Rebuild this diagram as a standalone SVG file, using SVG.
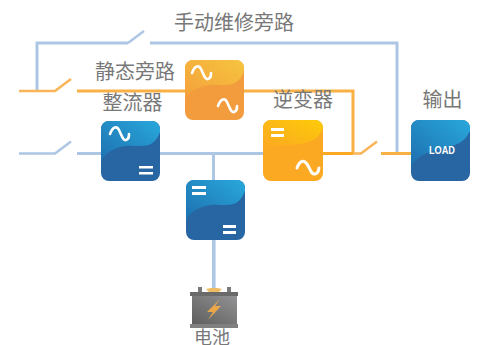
<svg xmlns="http://www.w3.org/2000/svg" width="497" height="345" viewBox="0 0 497 345">
<style>
.t{font-family:"Noto Sans CJK SC","Noto Sans",sans-serif;font-size:20px;fill:#787878;text-anchor:middle}
.b{fill:none;stroke:#adc6e4;stroke-width:3}
.bt{fill:none;stroke:#adc6e4;stroke-width:2.500}
.bw{fill:none;stroke:#adc6e4;stroke-width:3.600}
.o{fill:none;stroke:#f9b044;stroke-width:3}
.od{fill:none;stroke:#fba823;stroke-width:3}
.ot{fill:none;stroke:#f9b557;stroke-width:2.500}
.w{fill:none;stroke:#fff;stroke-width:2.600;stroke-linecap:round}
.e{fill:#fff}
</style>
<defs>
<linearGradient id="bg" x1="0" y1="1" x2="1" y2="0"><stop offset="0" stop-color="#1e6fae"/><stop offset="1" stop-color="#28a8dc"/></linearGradient>
<linearGradient id="og" x1="0" y1="1" x2="1" y2="0"><stop offset="0" stop-color="#f4a03c"/><stop offset="1" stop-color="#f6c43e"/></linearGradient>
<linearGradient id="yg" x1="0" y1="1" x2="1" y2="0"><stop offset="0" stop-color="#fba823"/><stop offset="1" stop-color="#fdcb08"/></linearGradient>
<linearGradient id="gg" x1="0" y1="1" x2="1" y2="0"><stop offset="0" stop-color="#5e5e5e"/><stop offset="1" stop-color="#929294"/></linearGradient>
</defs>
<g id="connectors">
<path class="b" d="M37 90V43H128"/>
<path class="bt" d="M128 43L144 31"/>
<path class="b" d="M150 43H397V153"/>
<path class="ot" d="M19 91H55L71 79"/>
<path class="o" d="M77 91H353V153"/>
<path class="bt" d="M19 153.500H55L71 141.500"/>
<path class="b" d="M77 153.500H263"/>
<path class="b" d="M213.500 153V180"/>
<path class="bw" d="M213.800 240V288"/>
<path class="od" d="M323 153.500H353"/>
<path class="ot" d="M353 153.500H361L377 141.500"/>
<path class="o" d="M381 153.500H411"/>
</g>
<g id="rectifier">
<rect x="101" y="121" width="59" height="60" rx="8" fill="#2766a3"/>
<path d="M101 163V129a8 8 0 0 1 8-8h43a8 8 0 0 1 8 8v3c-8 22-24 10-40 15-10 3-17 8-19 16z" fill="url(#bg)"/>
<path class="w" d="M110 134c3-8 7-8 9-4s4 11 7 10 3-3 3-6"/>
<path class="e" d="M139 166h14v2.500h-14zM139 172h14v2.500h-14z"/>
</g>
<g id="static-bypass">
<rect x="185" y="60" width="59" height="60" rx="8" fill="#f39c3e"/>
<path d="M185 101V68a8 8 0 0 1 8-8h43a8 8 0 0 1 8 8v3c-8 22-24 10-40 15-10 3-17 7-19 15z" fill="url(#og)"/>
<path class="w" d="M192 73c3-8 7-8 9-4s4 11 7 10 3-3 3-6"/>
<path class="w" d="M218 106c3-8 7-8 9-4s4 11 7 10 3-3 3-6"/>
</g>
<g id="inverter">
<rect x="263" y="120" width="60" height="61" rx="8" fill="#fba823"/>
<path d="M263 148V128a8 8 0 0 1 8-8h44a8 8 0 0 1 8 8c-6 16-22 16-36 17-10 1-18 1-24 3z" fill="url(#yg)"/>
<path class="e" d="M271 128h13v3h-13zM271 134h13v3h-13z"/>
<path d="M297 168c3-8 7-8 10-4s4 11 8 10 3-3 4-6" fill="none" stroke="#fff" stroke-width="3" stroke-linecap="round"/>
</g>
<g id="load">
<rect x="411" y="120" width="59" height="61" rx="8" fill="#2766a3"/>
<path d="M411 166V128a8 8 0 0 1 8-8h43a8 8 0 0 1 8 8v3c-6 12-12 13-24 17-14 3-28 6-35 18z" fill="url(#bg)"/>
<text x="442" y="153.500" font-family="'Liberation Sans',sans-serif" font-size="10.500" font-weight="700" fill="#fff" text-anchor="middle" textLength="26" lengthAdjust="spacingAndGlyphs">LOAD</text>
</g>
<g id="charger">
<rect x="186" y="180" width="59" height="60" rx="8" fill="#2766a3"/>
<path d="M186 222V188a8 8 0 0 1 8-8h43a8 8 0 0 1 8 8v3c-8 22-24 10-40 15-10 3-17 8-19 16z" fill="url(#bg)"/>
<path class="e" d="M192 186h14v3h-14zM192 192h14v3h-14zM223 225h13v3h-13zM223 231h13v3h-13z"/>
</g>
<g id="battery">
<rect x="198" y="287" width="4" height="6" fill="#7a7a7a"/>
<rect x="227" y="287" width="4" height="6" fill="#7a7a7a"/>
<path d="M206 289l5-1h6l5 1-3 3h-10z" fill="#eebc62"/>
<rect x="190" y="292" width="48" height="4" fill="#6a6a6a"/>
<rect x="192" y="296" width="45" height="28" fill="url(#gg)"/>
<rect x="190" y="324" width="48" height="4" fill="#808080"/>
<path d="M220 299l-13 13h6l-5 8 13-14h-6l5-7z" fill="#eba84a"/>
</g>
<g id="labels">
<text class="t" x="234" y="30">手动维修旁路</text>
<text class="t" x="135" y="79">静态旁路</text>
<text class="t" x="132.500" y="110">整流器</text>
<text class="t" x="303" y="107">逆变器</text>
<text class="t" x="442.500" y="107">输出</text>
<text class="t" x="212" y="344" style="font-size:18px">电池</text>
</g>
</svg>
